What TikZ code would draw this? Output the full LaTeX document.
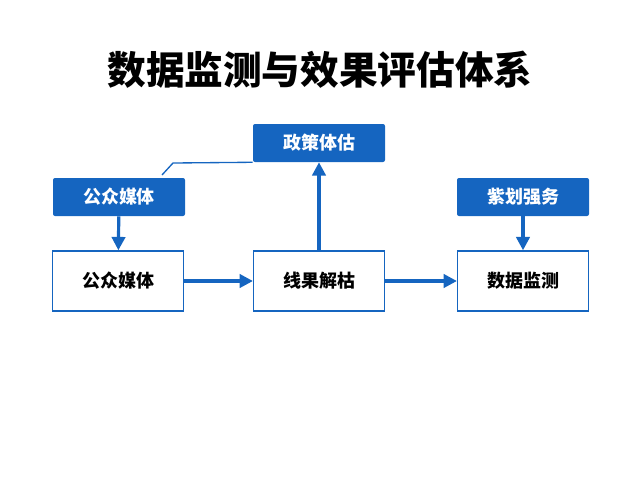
\documentclass[tikz,border=0pt]{standalone}
\usepackage{fontspec}
\newfontfamily\cjk{Noto Sans CJK SC}
\usetikzlibrary{arrows.meta}
\definecolor{bl}{HTML}{1565C0}
\begin{document}
\begin{tikzpicture}[x=0.75pt,y=-0.75pt,
 bb/.style={fill=bl,rounded corners=1.5pt,minimum width=99pt,minimum height=28.5pt,inner sep=0pt,text=white,font=\cjk\bfseries\fontsize{13.5}{15}\selectfont},
 wb/.style={draw=bl,line width=1.1pt,fill=white,minimum width=98pt,minimum height=45pt,inner sep=0pt,font=\cjk\bfseries\fontsize{13.5}{15}\selectfont},
 ar/.style={draw=bl,line width=2.4pt,-{Triangle[length=10pt,width=10pt]}}]
\useasboundingbox (0,0) rectangle (640,480);
\node[font=\cjk\bfseries\fontsize{29}{33}\selectfont] (t) at (320,70) {数据监测与效果评估体系};
\node[bb] (p) at (319,143) {政策体估};
\node[bb] (m) at (119,197) {公众媒体};
\node[bb] (s) at (523,197) {紫划强务};
\node[wb] (a) at (118,281) {公众媒体};
\node[wb] (b) at (319,281) {线果解枯};
\node[wb] (c) at (523,281) {数据监测};
\draw[ar] (m) -- (a);
\draw[ar] (s) -- (c);
\draw[ar] (b) -- (p);
\draw[ar] (a) -- (b);
\draw[ar] (b) -- (c);
\coordinate (k) at (173,163);
\draw[bl,line width=1pt] (162,175) -- (k) -- (p.south west);
\end{tikzpicture}
\end{document}
